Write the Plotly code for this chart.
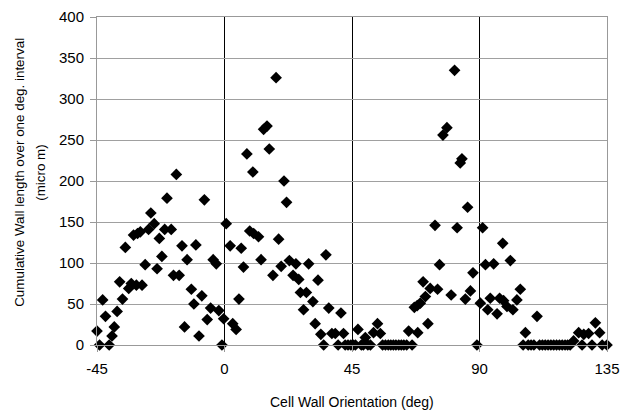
import plotly.graph_objects as go

# Cell wall orientation (deg) and cumulative wall length (micro m)
orientation = [
    -45.0, -44.1, -43.0, -42.0, -40.7, -39.7, -38.9, -37.9, -37.0, -36.0,
    -35.0, -33.8, -32.9, -32.1, -31.1, -30.7, -29.7, -29.1, -28.0, -26.8,
    -26.0, -24.8, -23.8, -23.0, -22.1, -21.1, -20.3, -18.8, -18.0, -17.0,
    -16.0, -15.0, -14.1, -13.2, -11.7, -10.8, -10.1, -9.0, -8.0, -7.1,
    -6.1, -4.9, -4.0, -2.9, -2.0, -0.9, -0.3,
    0.6, 2.0, 2.9, 4.1, 5.1, 5.9, 6.7, 7.9, 8.9, 10.0,
    10.3, 12.0, 12.9, 13.8, 15.0, 15.8, 17.1, 18.2, 19.1, 20.0,
    21.0, 21.9, 22.9, 24.2, 25.2, 26.2, 26.8, 27.9, 28.9, 29.7,
    31.2, 32.0, 33.0, 34.0, 35.0, 35.8, 36.8, 37.9, 39.1, 40.1,
    41.1, 42.0, 42.6, 43.6, 44.6, 45.4, 46.2, 47.1, 48.3, 49.0,
    49.7, 50.6, 51.5, 52.6, 54.0, 55.0, 55.8, 56.8, 57.8, 58.7,
    59.6, 60.5, 61.5, 62.4, 63.3, 64.3, 65.0, 66.2, 67.0, 68.0,
    68.2, 69.1, 70.1, 70.9, 71.8, 72.6, 74.3, 75.2, 75.9, 77.1,
    78.5, 80.0, 81.2, 82.1, 83.2, 83.8, 85.0, 85.8, 86.8, 87.7,
    89.1, 90.3, 91.1, 92.1, 92.9, 93.8, 95.0, 96.2, 97.1, 98.2,
    98.5, 99.7, 100.9, 101.8, 103.2, 104.4, 105.4, 106.2, 107.2, 108.2,
    109.2, 110.3, 111.2, 112.2, 113.2, 114.2, 115.2, 116.2, 117.2, 118.2,
    119.2, 120.2, 121.1, 122.0, 123.2, 125.0, 126.2, 126.8, 128.5, 129.7,
    130.9, 132.4, 133.3, 135.0,
]
wall_length = [
    17, 0, 55, 35, 0, 11, 22, 41, 77, 56,
    119, 69, 75, 134, 73, 136, 138, 73, 98, 141,
    161, 148, 93, 130, 108, 141, 179, 141, 85, 208,
    85, 121, 22, 104, 68, 50, 122, 11, 60, 177,
    31, 45, 104, 99, 42, 0, 32,
    148, 121, 26, 19, 56, 118, 95, 233, 139, 211,
    136, 132, 104, 263, 267, 239, 85, 326, 129, 96,
    200, 174, 103, 85, 99, 80, 64, 43, 64, 99,
    53, 26, 79, 13, 0, 110, 45, 14, 14, 0,
    39, 14, 0, 0, 0, 0, 0, 19, 0, 0,
    9, 0, 0, 15, 26, 14, 0, 0, 0, 0,
    0, 0, 0, 0, 0, 0, 17, 0, 46, 48,
    15, 51, 77, 59, 26, 69, 146, 68, 98, 256,
    265, 61, 335, 143, 222, 227, 56, 168, 66, 88,
    0, 51, 143, 98, 43, 57, 99, 38, 57, 124,
    54, 47, 103, 43, 55, 68, 0, 15, 0, 0,
    0, 35, 0, 0, 0, 0, 0, 0, 0, 0,
    0, 0, 0, 0, 5, 15, 0, 13, 14, 0,
    27, 15, 0, 0,
]

x_ticks = [-45, 0, 45, 90, 135]
y_ticks = [0, 50, 100, 150, 200, 250, 300, 350, 400]

x_title = "Cell Wall Orientation (deg)"
y_title_lines = ["Cumulative Wall length over one deg. interval", "(micro m)"]

FONT = "Liberation Sans, Arial, sans-serif"

fig = go.Figure(
    go.Scatter(
        x=orientation,
        y=wall_length,
        mode="markers",
        marker=dict(symbol="diamond", size=9, color="black", line=dict(width=0)),
        cliponaxis=False,
        showlegend=False,
    )
)

axis_common = dict(
    showgrid=True,
    gridwidth=1,
    zeroline=False,
    showline=True,
    mirror=True,
    linecolor="#999999",
    linewidth=1,
    ticks="outside",
    ticklen=6,
    tickcolor="#999999",
    tickfont=dict(size=15),
    automargin=False,
)

fig.update_layout(
    width=630,
    height=411,
    margin=dict(l=97, r=23, t=17, b=66),
    paper_bgcolor="white",
    plot_bgcolor="white",
    font=dict(family=FONT, size=14, color="black"),
    xaxis=dict(
        range=[-45, 135],
        tickvals=x_ticks,
        ticktext=[str(v) for v in x_ticks],
        gridcolor="black",
        ticklabelstandoff=4,
        **axis_common,
    ),
    yaxis=dict(
        range=[0, 400],
        tickvals=y_ticks,
        gridcolor="#a0a0a0",
        ticklabelstandoff=3,
        **axis_common,
    ),
)

# x-axis title
fig.add_annotation(
    text=x_title,
    xref="paper",
    yref="paper",
    x=0.5,
    y=0,
    xanchor="center",
    yanchor="middle",
    yshift=-57,
    showarrow=False,
    font=dict(size=14, family=FONT, color="black"),
)

# two-line rotated y-axis title
for line, shift in zip(y_title_lines, [-77, -56]):
    fig.add_annotation(
        text=line,
        xref="paper",
        yref="paper",
        x=0,
        y=0.525,
        xanchor="center",
        yanchor="middle",
        xshift=shift,
        textangle=-90,
        showarrow=False,
        font=dict(size=13.4, family=FONT, color="black"),
    )

fig.write_html("out.html")
